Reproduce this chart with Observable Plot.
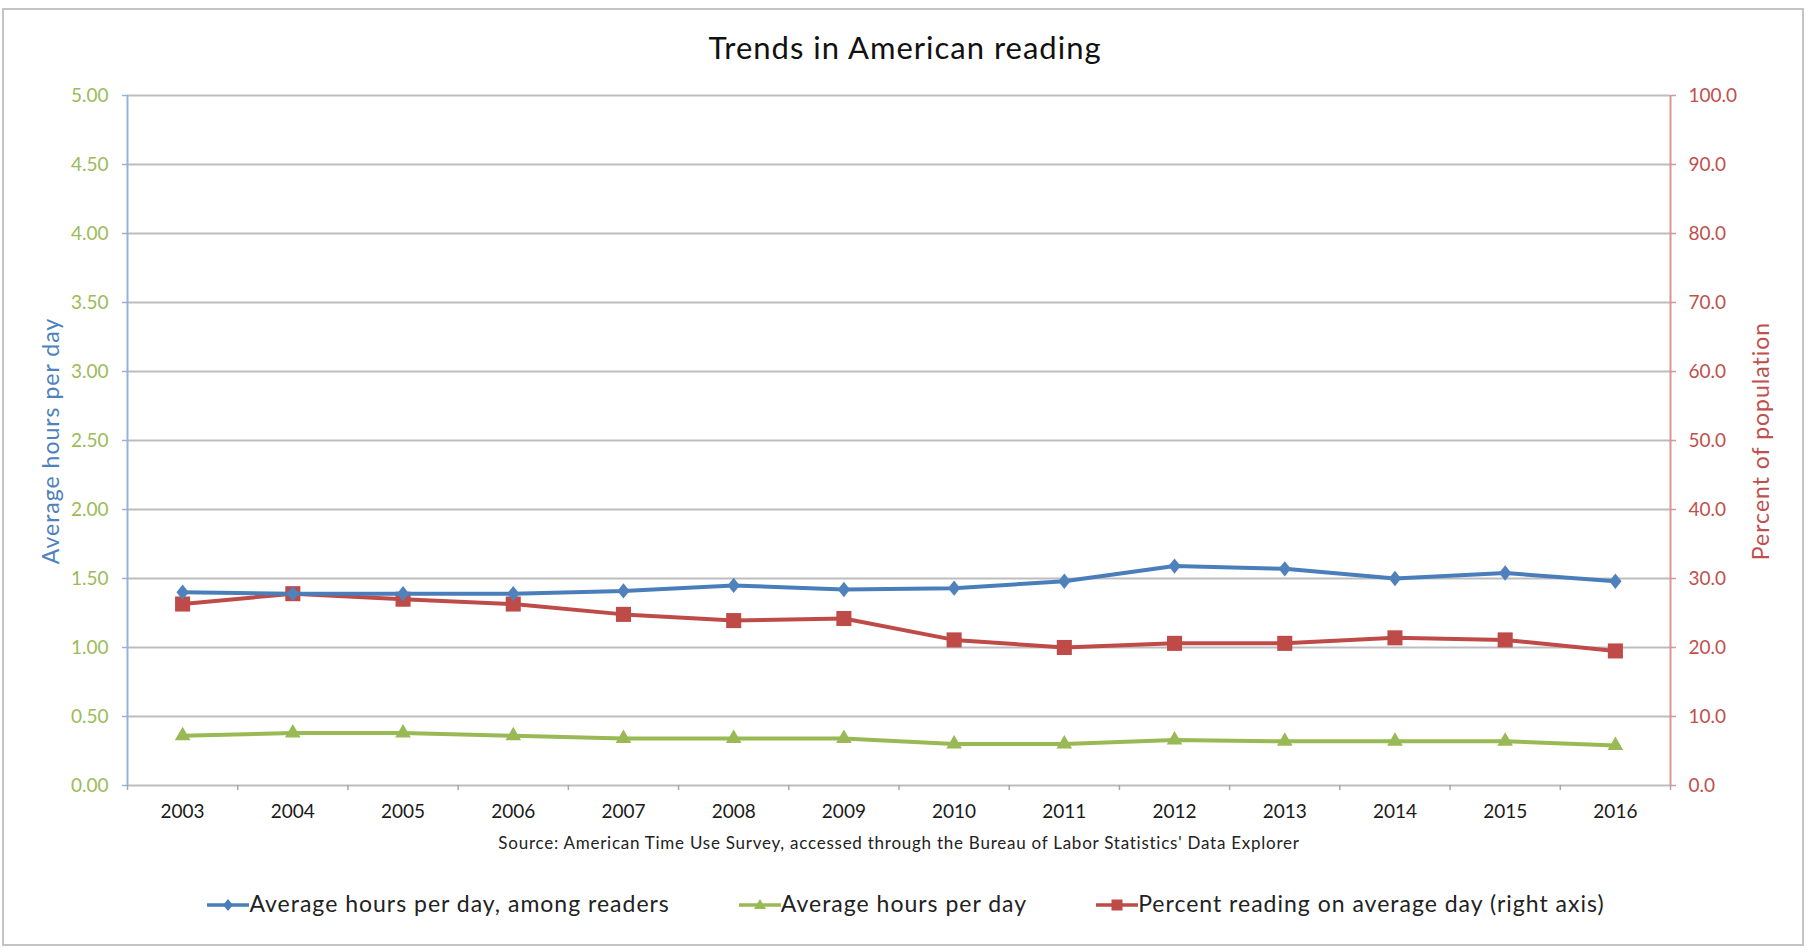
<!DOCTYPE html>
<html>
<head>
<meta charset="utf-8">
<script src="https://cdn.jsdelivr.net/npm/d3@7"></script>
<script src="https://cdn.jsdelivr.net/npm/@observablehq/plot@0.6"></script>
<style>
  html, body { margin: 0; padding: 0; background: #fff; }
  #page { position: relative; width: 1810px; height: 952px; font-family: Lato, "Open Sans", sans-serif; color: #111; overflow: hidden; }
  #border { position: absolute; left: 2px; top: 8px; width: 1802px; height: 938px; box-sizing: border-box; border: 2px solid #c4c4c4; }
  #title { position: absolute; left: 0; width: 1810px; text-align: center; font-size: 31px; letter-spacing: 1px; line-height: 31px; top: 32px; color: #111; }
  #chart { position: absolute; left: 0; top: 0; }
  #source { position: absolute; left: 0; width: 1798px; text-align: center; font-size: 17px; letter-spacing: 0.75px; line-height: 17px; top: 834px; color: #222; }
  #legend { position: absolute; left: 0; width: 1812px; top: 892px; display: flex; justify-content: center; gap: 69px; font-size: 23px; letter-spacing: 1px; line-height: 23px; color: #222; }
  #legend .item { display: flex; align-items: center; }
  #legend svg { display: block; margin-top: 2px; }
  .ytitle { position: absolute; white-space: nowrap; font-size: 23px; letter-spacing: 1px; line-height: 23px; transform: translate(-50%, -50%) rotate(-90deg); }
</style>
</head>
<body>
<div id="page">
  <div id="border"></div>
  <div id="chart"></div>
  <div id="title"></div>
  <div id="source"></div>
  <div id="legend"></div>
  <div id="ytitleLeft" class="ytitle" style="left:50px; top:441px; color:#4F81BD;"></div>
  <div id="ytitleRight" class="ytitle" style="left:1760px; top:441px; color:#C0504D;"></div>
</div>
<script>
// ---- Data ----
const years = [2003, 2004, 2005, 2006, 2007, 2008, 2009, 2010, 2011, 2012, 2013, 2014, 2015, 2016];
const hoursAmongReaders = [1.40, 1.39, 1.39, 1.39, 1.41, 1.45, 1.42, 1.43, 1.48, 1.59, 1.57, 1.50, 1.54, 1.48];
const hoursPerDay = [0.36, 0.38, 0.38, 0.36, 0.34, 0.34, 0.34, 0.30, 0.30, 0.33, 0.32, 0.32, 0.32, 0.29];
const percentReading = [26.3, 27.8, 27.0, 26.3, 24.8, 23.9, 24.2, 21.1, 20.0, 20.6, 20.6, 21.4, 21.1, 19.5];

const leftTicks = [0, 0.5, 1, 1.5, 2, 2.5, 3, 3.5, 4, 4.5, 5];
const rightTicks = [0, 10, 20, 30, 40, 50, 60, 70, 80, 90, 100];
const seriesNames = ["Average hours per day, among readers", "Average hours per day", "Percent reading on average day (right axis)"];
const titleText = "Trends in American reading";
const sourceText = "Source: American Time Use Survey, accessed through the Bureau of Labor Statistics' Data Explorer";
const leftAxisTitle = "Average hours per day";
const rightAxisTitle = "Percent of population";

// ---- Styles ----
const blue = "#4A7EBB", blueFill = "#4F81BD";
const green = "#98B954", greenText = "#9BBB59";
const red = "#BE4B48", redText = "#C0504D";
const gridColor = "#bdbdbd";
const leftAxisColor = "#95B3D7";
const rightAxisColor = "#D99694";

const pctMax = rightTicks[rightTicks.length - 1];
const hoursMax = leftTicks[leftTicks.length - 1];
const pctToHours = p => p * hoursMax / pctMax;

const data = years.map((year, i) => ({
  year,
  readers: hoursAmongReaders[i],
  all: hoursPerDay[i],
  pct: percentReading[i]
}));

const xDomain = [years[0] - 0.5, years[years.length - 1] + 0.5];
const boundaries = years.map(y => y - 0.5).concat([years[years.length - 1] + 0.5]);

const diamondSymbol = {
  draw(ctx, size) {
    const s = Math.sqrt(size);
    const h = s * 0.62, w = h * 0.8;
    ctx.moveTo(0, -h); ctx.lineTo(w, 0); ctx.lineTo(0, h); ctx.lineTo(-w, 0); ctx.closePath();
  }
};

const chart = Plot.plot({
  width: 1810,
  height: 830,
  marginLeft: 127,
  marginRight: 140,
  marginTop: 95,
  marginBottom: 45,
  style: { fontFamily: "Lato, 'Open Sans', sans-serif", fontSize: "19px", background: "transparent", overflow: "visible" },
  x: { type: "linear", domain: xDomain },
  y: { domain: [0, hoursMax] },
  marks: [
    Plot.gridY(leftTicks.slice(1), { stroke: gridColor, strokeOpacity: 1, strokeWidth: 2 }),
    Plot.ruleY([0], { stroke: gridColor, strokeWidth: 2 }),
    Plot.axisX(boundaries, { tickSize: 5, tickFormat: () => "", stroke: "#a8a8a8", strokeWidth: 1.5, label: null }),
    Plot.axisX(years, { tickSize: 0, tickPadding: 19, tickFormat: d => String(d), fontSize: 19, color: "#1a1a1a", label: null }),
    Plot.ruleX([xDomain[0]], { y1: 0, y2: hoursMax, stroke: leftAxisColor, strokeWidth: 2 }),
    Plot.ruleX([xDomain[1]], { y1: 0, y2: hoursMax, stroke: rightAxisColor, strokeWidth: 2 }),
    Plot.axisY(leftTicks, { anchor: "left", tickSize: 5, tickPadding: 14, stroke: leftAxisColor, strokeWidth: 1.5, color: greenText, tickFormat: d => d.toFixed(2), fontSize: 19, label: null }),
    Plot.axisY(rightTicks.map(pctToHours), { anchor: "right", tickSize: 5, tickPadding: 13, stroke: rightAxisColor, strokeWidth: 1.5, color: redText, tickFormat: d => (d * pctMax / hoursMax).toFixed(1), fontSize: 19, label: null }),
    Plot.line(data, { x: "year", y: "all", stroke: green, strokeWidth: 4 }),
    Plot.dot(data, { x: "year", y: "all", symbol: "triangle", r: 5.8, fill: green, stroke: "none" }),
    Plot.line(data, { x: "year", y: d => pctToHours(d.pct), stroke: red, strokeWidth: 4 }),
    Plot.dot(data, { x: "year", y: d => pctToHours(d.pct), symbol: "square", r: 8.5, fill: red, stroke: "none" }),
    Plot.line(data, { x: "year", y: "readers", stroke: blue, strokeWidth: 4 }),
    Plot.dot(data, { x: "year", y: "readers", symbol: diamondSymbol, r: 7, fill: blueFill, stroke: "none" })
  ]
});
document.getElementById("chart").appendChild(chart);

document.getElementById("title").textContent = titleText;
document.getElementById("source").textContent = sourceText;
document.getElementById("ytitleLeft").textContent = leftAxisTitle;
document.getElementById("ytitleRight").textContent = rightAxisTitle;

// Legend
const legendSpecs = [
  { name: seriesNames[0], color: blue, shape: "diamond" },
  { name: seriesNames[1], color: green, shape: "triangle" },
  { name: seriesNames[2], color: red, shape: "square" }
];
const ns = "http://www.w3.org/2000/svg";
const legend = document.getElementById("legend");
for (const spec of legendSpecs) {
  const item = document.createElement("div");
  item.className = "item";
  const svg = document.createElementNS(ns, "svg");
  svg.setAttribute("width", 42);
  svg.setAttribute("height", 20);
  const line = document.createElementNS(ns, "line");
  line.setAttribute("x1", 0); line.setAttribute("x2", 42);
  line.setAttribute("y1", 10); line.setAttribute("y2", 10);
  line.setAttribute("stroke", spec.color); line.setAttribute("stroke-width", 3.5);
  svg.appendChild(line);
  const p = document.createElementNS(ns, "path");
  let d;
  if (spec.shape === "diamond") d = "M21,4 L26,10 L21,16 L16,10 Z";
  else if (spec.shape === "triangle") d = "M21,4 L27,14 L15,14 Z";
  else d = "M15.5,4.5 H26.5 V15.5 H15.5 Z";
  p.setAttribute("d", d);
  p.setAttribute("fill", spec.color);
  svg.appendChild(p);
  item.appendChild(svg);
  const label = document.createElement("span");
  label.textContent = spec.name;
  item.appendChild(label);
  legend.appendChild(item);
}
</script>
</body>
</html>
